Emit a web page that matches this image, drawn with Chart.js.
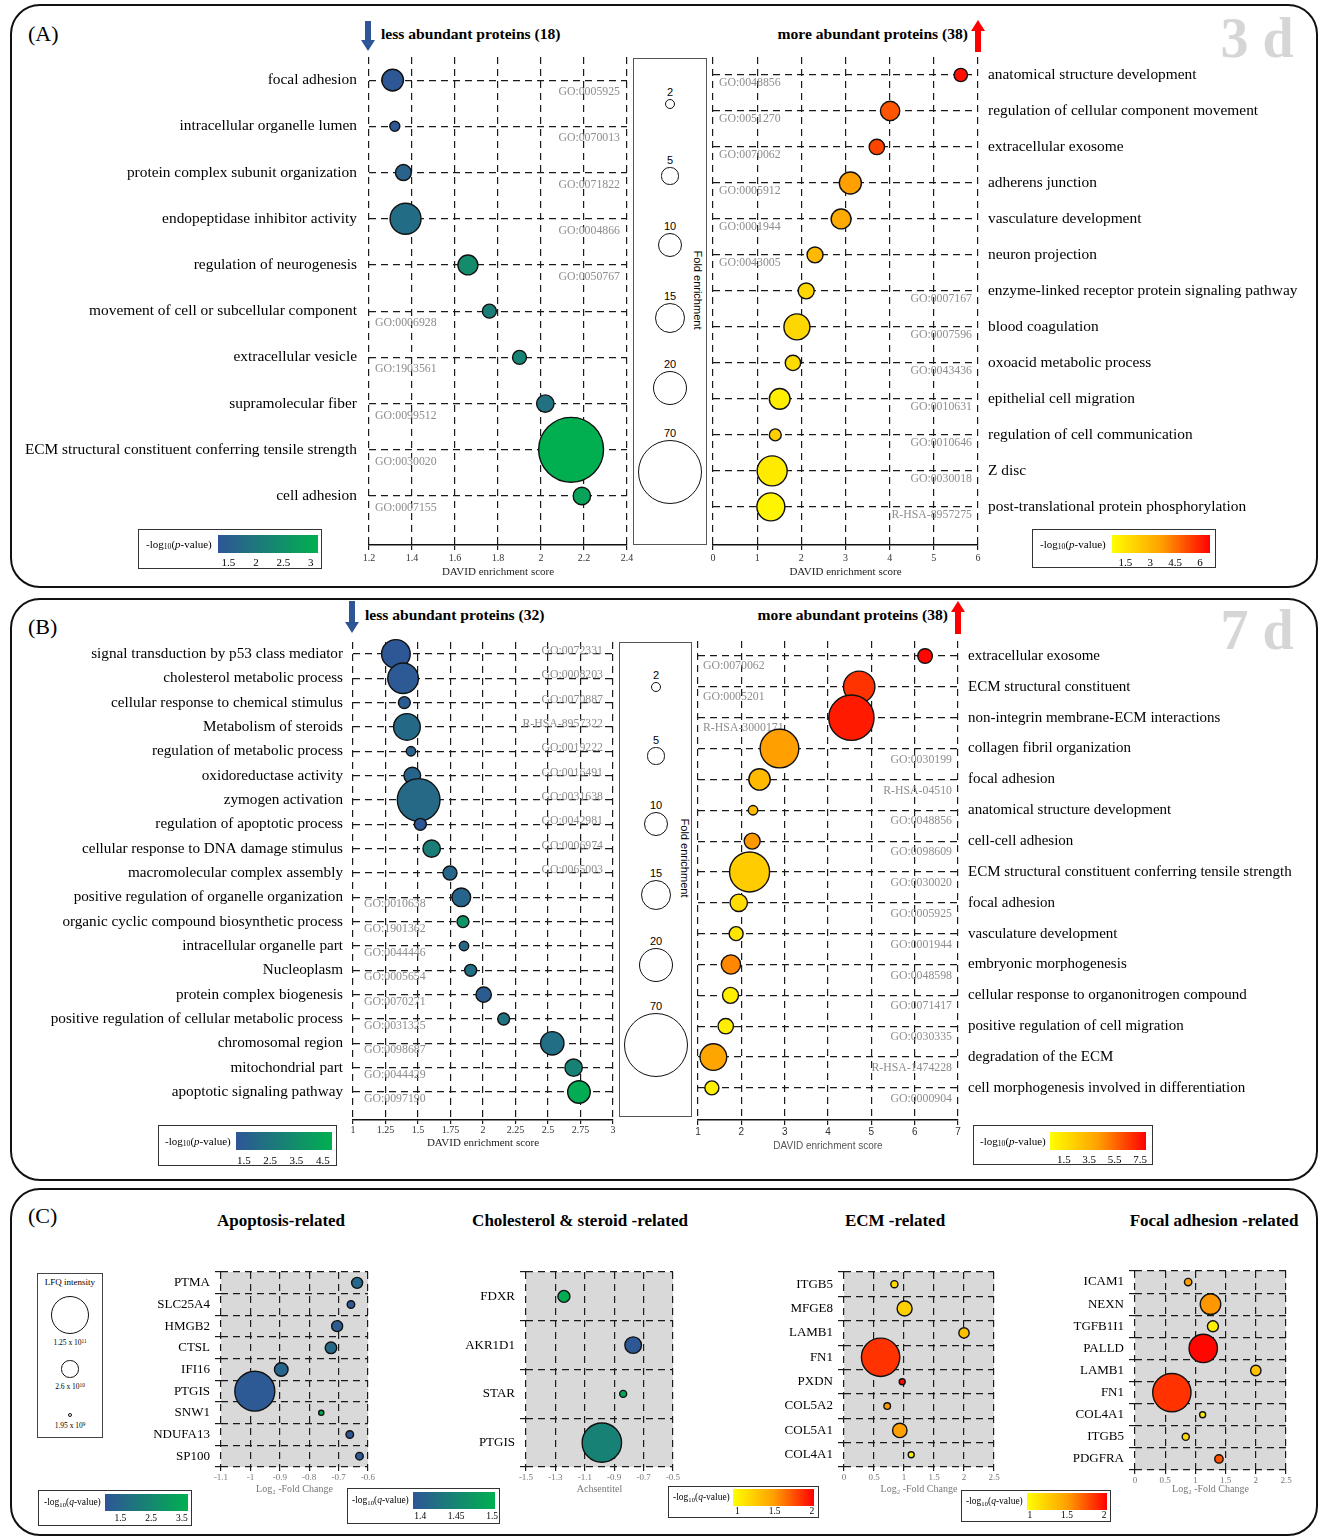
<!DOCTYPE html>
<html lang="en">
<head>
<meta charset="utf-8">
<title>GO enrichment bubble charts</title>
<script src="https://cdn.jsdelivr.net/npm/chart.js@4.4.1/dist/chart.umd.min.js"></script>
<style>
html,body{margin:0;padding:0;background:#fff;}
#page{position:relative;width:1319px;height:1536px;overflow:hidden;font-family:"Liberation Serif","Times New Roman",serif;color:#000;}
.panel{position:absolute;border:2px solid #111;border-radius:30px;box-sizing:border-box;}
.t{position:absolute;white-space:nowrap;line-height:1;}
.box{position:absolute;border:1.5px solid #333;box-sizing:border-box;}
canvas{position:absolute;}
.circ{position:absolute;border:1.6px solid #111;border-radius:50%;box-sizing:border-box;}
sub{font-size:70%;vertical-align:-0.25em;line-height:0;}
sup{font-size:70%;vertical-align:0.5em;line-height:0;}
</style>
</head>
<body>
<div id="page"></div>
<script>
// ---------------- DATA ----------------
// Panel A (3 d) - less abundant proteins
const aLessTerms = ["focal adhesion","intracellular organelle lumen","protein complex subunit organization","endopeptidase inhibitor activity","regulation of neurogenesis","movement of cell or subcellular component","extracellular vesicle","supramolecular fiber","ECM structural constituent conferring tensile strength","cell adhesion"];
const aLessGO = ["GO:0005925","GO:0070013","GO:0071822","GO:0004866","GO:0050767","GO:0006928","GO:1903561","GO:0099512","GO:0030020","GO:0007155"];
const aLessScore = [1.31,1.32,1.36,1.37,1.66,1.76,1.90,2.02,2.14,2.19];
const aLessFold = [7.9,1.7,4.3,16.2,6.7,3.3,3.3,5.1,71,5.1];
const aLessLogP = [1.35,1.35,1.58,1.77,2.4,2.13,2.22,1.86,3.1,2.86];
const aLessXTicks = [1.2,1.4,1.6,1.8,2,2.2,2.4];

// Panel A (3 d) - more abundant proteins
const aMoreTerms = ["anatomical structure development","regulation of cellular component movement","extracellular exosome","adherens junction","vasculature development","neuron projection","enzyme-linked receptor protein signaling pathway","blood coagulation","oxoacid metabolic process","epithelial cell migration","regulation of cell communication","Z disc","post-translational protein phosphorylation"];
const aMoreGO = ["GO:0048856","GO:0051270","GO:0070062","GO:0005912","GO:0001944","GO:0043005","GO:0007167","GO:0007596","GO:0043436","GO:0010631","GO:0010646","GO:0030018","R-HSA-8957275"];
const aMoreScore = [5.61,4.01,3.71,3.11,2.90,2.31,2.11,1.90,1.81,1.51,1.41,1.34,1.31];
const aMoreFold = [3.0,6.3,4.0,8.2,6.7,4.3,4.3,11.4,4.0,7.2,2.4,15.2,13.2];
const aMoreLogP = [6.3,5.03,5.35,3.65,3.34,2.87,1.94,1.94,1.79,1.23,2.25,1.32,1.0];
const aMoreXTicks = [0,1,2,3,4,5,6];

// Panel B (7 d) - less abundant proteins
const bLessTerms = ["signal transduction by p53 class mediator","cholesterol metabolic process","cellular response to chemical stimulus","Metabolism of steroids","regulation of metabolic process","oxidoreductase activity","zymogen activation","regulation of apoptotic process","cellular response to DNA damage stimulus","macromolecular complex assembly","positive regulation of organelle organization","organic cyclic compound biosynthetic process","intracellular organelle part","Nucleoplasm","protein complex biogenesis","positive regulation of cellular metabolic process","chromosomal region","mitochondrial part","apoptotic signaling pathway"];
const bLessGO = ["GO:0072331","GO:0008203","GO:0070887","R-HSA-8957322","GO:0019222","GO:0016491","GO:0031638","GO:0042981","GO:0006974","GO:0065003","GO:0010638","GO:1901362","GO:0044446","GO:0005654","GO:0070271","GO:0031325","GO:0098687","GO:0044429","GO:0097190"];
const bLessScore = [1.33,1.385,1.395,1.415,1.446,1.456,1.505,1.518,1.605,1.746,1.833,1.846,1.854,1.905,2.005,2.159,2.533,2.697,2.738];
const bLessFold = [13.8,15.8,2.4,12,1.5,4.7,30.7,2.4,5.1,3.3,5.9,2.4,1.5,2.4,4.0,2.4,9.2,5.1,8.6];
const bLessLogP = [1.3,1.35,1.45,2.05,1.75,1.8,2.0,1.25,2.85,1.85,1.8,3.75,1.95,2.2,1.5,2.4,2.2,2.95,4.65];
const bLessXTicks = [1,1.25,1.5,1.75,2,2.25,2.5,2.75,3];

// Panel B (7 d) - more abundant proteins
const bMoreTerms = ["extracellular exosome","ECM structural constituent","non-integrin membrane-ECM interactions","collagen fibril organization","focal adhesion","anatomical structure development","cell-cell adhesion","ECM structural constituent conferring tensile strength","focal adhesion","vasculature development","embryonic morphogenesis","cellular response to organonitrogen compound","positive regulation of cell migration","degradation of the ECM","cell morphogenesis involved in differentiation"];
const bMoreGO = ["GO:0070062","GO:0005201","R-HSA-3000171","GO:0030199","R-HSA-04510","GO:0048856","GO:0098609","GO:0030020","GO:0005925","GO:0001944","GO:0048598","GO:0071417","GO:0030335","R-HSA-1474228","GO:0000904"];
const bMoreScore = [6.24,4.72,4.54,2.88,2.42,2.27,2.25,2.19,1.94,1.88,1.76,1.75,1.64,1.355,1.32];
const bMoreFold = [3.6,16.6,34.7,25.2,7.7,1.5,4.3,27,5.1,3.3,6.3,4.3,4.0,12,3.3];
const bMoreLogP = [7.8,6.75,7.35,4.2,3.15,3.1,4.35,2.45,1.78,1.4,4.75,1.1,1.1,4.0,1.02];
const bMoreXTicks = [1,2,3,4,5,6,7];

// Fold enrichment legend
const foldLegendValues = [2,5,10,15,20,70];

// Panel C - protein level (LFQ intensity in units of 1e9)
const cApoGenes = ["PTMA","SLC25A4","HMGB2","CTSL","IFI16","PTGIS","SNW1","NDUFA13","SP100"];
const cApoFC = [-0.637,-0.658,-0.705,-0.726,-0.895,-0.985,-0.759,-0.662,-0.629];
const cApoLFQ = [10.4,4.9,10.4,11.5,15.9,137,2.3,4.9,4.9];
const cApoLogQ = [1.55,1.08,1.2,1.6,1.45,1.13,3.6,1.08,1.12];
const cApoXTicks = [-1.1,-1,-0.9,-0.8,-0.7,-0.6];

const cCholGenes = ["FDXR","AKR1D1","STAR","PTGIS"];
const cCholFC = [-1.242,-0.771,-0.839,-0.984];
const cCholLFQ = [12.3,23.6,4.2,133];
const cCholLogQ = [1.50,1.392,1.49,1.445];
const cCholXTicks = [-1.5,-1.3,-1.1,-0.9,-0.7,-0.5];

const cEcmGenes = ["ITGB5","MFGE8","LAMB1","FN1","PXDN","COL5A2","COL5A1","COL4A1"];
const cEcmFC = [0.84,1.01,2.0,0.61,0.97,0.72,0.93,1.12];
const cEcmLFQ = [4.3,19.3,9.2,126,3.1,3.7,17.8,3.1];
const cEcmLogQ = [1.16,1.21,1.3,1.86,2.0,1.51,1.485,1.04];
const cEcmXTicks = [0,0.5,1,1.5,2,2.5];

const cFaGenes = ["ICAM1","NEXN","TGFB1I1","PALLD","LAMB1","FN1","COL4A1","ITGB5","PDGFRA"];
const cFaFC = [0.88,1.25,1.29,1.13,2.0,0.61,1.12,0.84,1.39];
const cFaLFQ = [4.7,36,10.4,69,9.2,126,3.1,4.3,6];
const cFaLogQ = [1.5,1.53,1.05,2.02,1.32,1.87,1.06,1.18,1.77];
const cFaXTicks = [0,0.5,1,1.5,2,2.5];

const lfqLegendValues = [125,26,1.95];
const lfqLegendLabels = ["1.25 x 10<sup>11</sup>","2.6 x 10<sup>10</sup>","1.95 x 10<sup>9</sup>"];

// colour scale ranges and colourbar tick labels
const aLessRange = [1.31,3.13], aLessBarTicks = [1.5,2,2.5,3];
const aMoreRange = [0.7,6.6],  aMoreBarTicks = [1.5,3,4.5,6];
const bLessRange = [1.2,4.85], bLessBarTicks = [1.5,2.5,3.5,4.5];
const bMoreRange = [0.42,7.96], bMoreBarTicks = [1.5,3.5,5.5,7.5];
const cApoRange = [1.0,3.7],   cApoBarTicks = [1.5,2.5,3.5];
const cCholRange = [1.39,1.504], cCholBarTicks = [1.4,1.45,1.5];
const cEcmRange = [0.94,2.03], cEcmBarTicks = [1,1.5,2];
const cFaRange = [0.96,2.04],  cFaBarTicks = [1,1.5,2];

// ---------------- HELPERS ----------------
const SERIF = "Liberation Serif";
const SANS = "Liberation Sans";
const page = document.getElementById('page');
const clamp01 = t => Math.max(0, Math.min(1, t));
function blueGreen(v, r){ const t = clamp01((v-r[0])/(r[1]-r[0])); return `rgb(${Math.round(47-47*t)},${Math.round(85+91*t)},${Math.round(151-71*t)})`; }
function yellowRed(v, r){ const t = clamp01((v-r[0])/(r[1]-r[0])); const g = t < 0.5 ? 255-190*t : 160*(1-(t-0.5)*2); return `rgb(255,${Math.round(g)},0)`; }
const BG_CSS = "linear-gradient(to right, rgb(47,85,151), rgb(0,176,80))";
const YR_CSS = "linear-gradient(to right, #ffff00, #ffa000, #ff0000)";
const rFold = fe => 3.85*Math.sqrt(fe);
const rLFQ = v => 1.708*Math.sqrt(v);

function div(cls, css, html){ const d=document.createElement('div'); if(cls) d.className=cls; Object.assign(d.style, css||{}); if(html!==undefined) d.innerHTML=html; page.appendChild(d); return d; }
function txt(html, x, y, css, anchor){
  const d = div('t', Object.assign({left:x+'px', top:y+'px'}, css||{}), html);
  const tx = anchor==='c' ? '-50%' : anchor==='r' ? '-100%' : '0';
  d.style.transform = `translate(${tx},-50%)`;
  return d;
}
function panel(l,t,w,h){ div('panel',{left:l+'px',top:t+'px',width:w+'px',height:h+'px'}); }
function arrow(x, y1, y2, dir, color){
  const w=16, h=y2-y1;
  const s = document.createElementNS('http://www.w3.org/2000/svg','svg');
  s.setAttribute('width',w); s.setAttribute('height',h);
  Object.assign(s.style,{position:'absolute',left:(x-w/2)+'px',top:y1+'px'});
  const p = document.createElementNS('http://www.w3.org/2000/svg','polygon');
  const pts = dir==='down'
    ? `5,0 11,0 11,${h-11} 15,${h-11} 8,${h} 1,${h-11} 5,${h-11}`
    : `8,0 15,11 11,11 11,${h} 5,${h} 5,11 1,11`;
  p.setAttribute('points',pts); p.setAttribute('fill',color);
  s.appendChild(p); page.appendChild(s);
}
function colorbar(o){
  div('box',{left:o.box[0]+'px',top:o.box[1]+'px',width:o.box[2]+'px',height:o.box[3]+'px'});
  div('',{position:'absolute',left:o.grad[0]+'px',top:o.grad[1]+'px',width:o.grad[2]+'px',height:o.grad[3]+'px',background:o.css});
  txt(o.label, o.textX, o.textY, {fontSize:o.fs+'px'}, 'l');
  o.ticks.forEach(v=>{
    const x = o.grad[0] + (v-o.range[0])/(o.range[1]-o.range[0])*o.grad[2];
    txt(String(v), x, o.tickY, {fontSize:o.fs+'px'}, 'c');
  });
}
function foldLegend(box, cx, cys, textX, textY){
  div('',{position:'absolute',left:box[0]+'px',top:box[1]+'px',width:box[2]+'px',height:box[3]+'px',border:'1.5px solid #555',boxSizing:'border-box'});
  foldLegendValues.forEach((v,i)=>{
    const r = rFold(v);
    div('circ',{left:(cx-r)+'px',top:(cys[i]-r)+'px',width:(2*r)+'px',height:(2*r)+'px'});
    txt(String(v), cx, cys[i]-r-7, {fontFamily:SANS,fontSize:'11px'}, 'c');
  });
  const t = txt('Fold enrichment', textX, textY, {fontFamily:SANS,fontSize:'11px',writingMode:'vertical-rl'}, 'l');
  t.style.transform='translate(-50%,-50%)';
}

function bubbleChart(o){
  const PT=20, PF=16;
  const pw=o.plot.r-o.plot.l, ph=o.plot.b-o.plot.t;
  const left = o.side==='left' ? o.plot.l-o.yW : o.plot.l-PF;
  const W = o.yW+pw+PF, H = PT+ph+o.xH;
  const cv=document.createElement('canvas');
  cv.width=W; cv.height=H;
  Object.assign(cv.style,{left:left+'px',top:(o.plot.t-PT)+'px',width:W+'px',height:H+'px'});
  page.appendChild(cv);
  const dash=[7,5], gc='#1a1a1a';
  const yTicks = {font:{family:SERIF,size:o.labelSize},color:'#000',padding:o.yPad,autoSkip:false};
  const yTickColor = o.category ? gc : 'rgba(0,0,0,0)';
  let yScale;
  if (o.category) {
    yScale = {type:'category',labels:o.labels,offset:true,position:o.side,
      grid:{offset:true,color:gc,lineWidth:1.2,tickLength:o.yTickLen,tickColor:yTickColor},
      border:{display:false,dash},
      ticks:yTicks,
      afterFit:s=>{s.width=o.yW;}};
  } else {
    yScale = {type:'linear',position:o.side,reverse:true,min:o.ymin,max:o.ymax,bounds:'data',
      afterBuildTicks:s=>{s.ticks=o.labels.map((_,i)=>({value:i}));},
      grid:{color:gc,lineWidth:1.2,tickLength:o.yTickLen,tickColor:yTickColor},
      border:{display:false,dash},
      ticks:Object.assign({callback:v=>o.labels[v]},yTicks),
      afterFit:s=>{s.width=o.yW;}};
  }
  const plugins=[];
  if (o.bg) plugins.push({id:'plotBg',beforeDraw(c){const a=c.chartArea;c.ctx.save();c.ctx.fillStyle=o.bg;c.ctx.fillRect(a.left,a.top,a.right-a.left,a.bottom-a.top);c.ctx.restore();}});
  if (o.go) plugins.push({id:'goIds',beforeDatasetsDraw(c){
    const a=c.chartArea, ys=c.scales.y, ctx=c.ctx;
    ctx.save(); ctx.font=`11.8px "${SERIF}"`; ctx.fillStyle='#8d8d8d'; ctx.textBaseline='middle';
    o.go.ids.forEach((id,i)=>{
      const right = o.go.align(i)==='right';
      ctx.textAlign = right?'right':'left';
      const x = right ? a.right-o.go.insetR : a.left+o.go.insetL;
      ctx.fillText(id, x, ys.getPixelForValue(i)+(right?o.go.dyR:o.go.dyL));
    });
    ctx.restore();
  }});
  new Chart(cv,{
    type:'bubble',
    data:{datasets:[{data:o.xs.map((x,i)=>({x:x,y:o.category?o.labels[i]:i,r:o.rs[i]})),
      backgroundColor:o.colors,borderColor:'#111',borderWidth:1.4,clip:false}]},
    options:{responsive:false,animation:false,events:[],
      layout:{autoPadding:false,padding:{top:PT,bottom:0,left:o.side==='left'?0:PF,right:o.side==='left'?PF:0}},
      plugins:{legend:{display:false},tooltip:{enabled:false}},
      scales:{
        x:{type:'linear',min:o.xmin,max:o.xmax,bounds:'data',
          afterBuildTicks:s=>{s.ticks=o.xticks.map(v=>({value:v}));},
          ticks:{callback:v=>String(v),font:{family:o.xFont||SERIF,size:o.xTickSize},color:o.xTickColor,padding:o.xPad,maxRotation:0,autoSkip:false},
          grid:{color:gc,lineWidth:1.2,tickLength:o.xTickLen,tickColor:gc},
          border:{display:!o.category,color:'#111',width:1.5,dash},
          title:{display:true,text:o.title,font:{family:o.xFont||SERIF,size:o.titleSize},color:o.titleColor,padding:{top:0,bottom:o.titlePB}},
          afterFit:s=>{s.height=o.xH;}},
        y:yScale
      }},
    plugins:plugins
  });
}

// ---------------- LAYOUT ----------------
panel(10,4,1308,584);
panel(10,598,1308,583);
panel(10,1188,1308,348);

// Panel A header
txt('(A)',28,34,{fontSize:'22px'},'l');
arrow(368,21,51,'down','#2f5597');
txt('less abundant proteins (18)',381,34,{fontSize:'15.6px',fontWeight:'bold'},'l');
txt('more abundant proteins (38)',968,34,{fontSize:'15.6px',fontWeight:'bold'},'r');
arrow(978,20,52,'up','#ff0000');
txt('3 d',1257,38,{fontSize:'56px',fontWeight:'bold',color:'#d6d6d6'},'c');

// Panel B header
txt('(B)',28,627,{fontSize:'22px'},'l');
arrow(352,601,633,'down','#2f5597');
txt('less abundant proteins (32)',365,615,{fontSize:'15.6px',fontWeight:'bold'},'l');
txt('more abundant proteins (38)',948,615,{fontSize:'15.6px',fontWeight:'bold'},'r');
arrow(958,601,634,'up','#ff0000');
txt('7 d',1257,630,{fontSize:'56px',fontWeight:'bold',color:'#d6d6d6'},'c');

// Panel C header
txt('(C)',28,1216,{fontSize:'22px'},'l');
txt('Apoptosis-related',281,1220,{fontSize:'17px',fontWeight:'bold'},'c');
txt('Cholesterol &amp; steroid -related',580,1220,{fontSize:'17px',fontWeight:'bold'},'c');
txt('ECM -related',895,1220,{fontSize:'17px',fontWeight:'bold'},'c');
txt('Focal adhesion -related',1214,1220,{fontSize:'17px',fontWeight:'bold'},'c');

// Fold enrichment legends
foldLegend([633,58,74,487],670,[104,176,245,318,388,472],697,290);
foldLegend([619,642,73,475],656,[687,756,824,895,965,1045],684,858);

// LFQ legend
div('',{position:'absolute',left:'37px',top:'1273px',width:'66px',height:'165px',border:'1.5px solid #444',boxSizing:'border-box'});
txt('LFQ intensity',70,1282,{fontSize:'9px'},'c');
[1315,1369,1415].forEach((cy,i)=>{
  const r=rLFQ(lfqLegendValues[i]);
  div('circ',{left:(70-r)+'px',top:(cy-r)+'px',width:(2*r)+'px',height:(2*r)+'px',borderWidth:'1.3px'});
  txt(lfqLegendLabels[i],70,cy+r+9,{fontSize:'7.5px'},'c');
});

// ---------------- CHARTS ----------------
const goA_L = {ids:aLessGO,align:i=>i<5?'right':'left',insetR:7,insetL:6,dyR:12,dyL:12};
bubbleChart({plot:{l:369,t:57,r:627,b:545},side:'left',yW:360,xH:40,labels:aLessTerms,labelSize:15.4,yPad:4,yTickLen:8,
  ymin:-0.5,ymax:10.06,xmin:1.2,xmax:2.4,xticks:aLessXTicks,xs:aLessScore,rs:aLessFold.map(rFold),
  colors:aLessLogP.map(v=>blueGreen(v,aLessRange)),xTickSize:10,xTickColor:'#333',xPad:2,xTickLen:5,
  title:'DAVID enrichment score',titleSize:11,titleColor:'#222',titlePB:6,go:goA_L});

const goA_R = {ids:aMoreGO,align:i=>i<6?'left':'right',insetR:6,insetL:6,dyR:8,dyL:8};
bubbleChart({plot:{l:713,t:57,r:978,b:545},side:'right',yW:335,xH:40,labels:aMoreTerms,labelSize:15.4,yPad:2,yTickLen:8,
  ymin:-0.5,ymax:13.06,xmin:0,xmax:6,xticks:aMoreXTicks,xs:aMoreScore,rs:aMoreFold.map(rFold),
  colors:aMoreLogP.map(v=>yellowRed(v,aMoreRange)),xTickSize:10,xTickColor:'#333',xPad:2,xTickLen:5,
  title:'DAVID enrichment score',titleSize:11,titleColor:'#222',titlePB:6,go:goA_R});

const goB_L = {ids:bLessGO,align:i=>i<10?'right':'left',insetR:10,insetL:11,dyR:-3,dyL:7};
bubbleChart({plot:{l:353,t:642,r:613,b:1120},side:'left',yW:348,xH:40,labels:bLessTerms,labelSize:15.2,yPad:3,yTickLen:7,
  ymin:-0.49,ymax:19.15,xmin:1,xmax:3,xticks:bLessXTicks,xs:bLessScore,rs:bLessFold.map(rFold),
  colors:bLessLogP.map(v=>blueGreen(v,bLessRange)),xTickSize:10,xTickColor:'#333',xPad:0,xTickLen:4,
  title:'DAVID enrichment score',titleSize:11,titleColor:'#222',titlePB:10,go:goB_L});

const goB_R = {ids:bMoreGO,align:i=>i<3?'left':'right',insetR:6,insetL:5,dyR:11,dyL:10};
bubbleChart({plot:{l:698,t:641,r:958,b:1120},side:'right',yW:350,xH:40,labels:bMoreTerms,labelSize:15,yPad:2,yTickLen:8,
  ymin:-0.486,ymax:15.04,xmin:1,xmax:7,xticks:bMoreXTicks,xs:bMoreScore,rs:bMoreFold.map(rFold),
  colors:bMoreLogP.map(v=>yellowRed(v,bMoreRange)),xTickSize:10,xTickColor:'#333',xPad:1,xTickLen:5,xFont:SANS,
  title:'DAVID enrichment score',titleSize:10,titleColor:'#555',titlePB:8,go:goB_R});

const cCommon = {side:'left',xH:30,labelSize:13,yPad:5,yTickLen:6,category:true,bg:'#d9d9d9',
  xTickSize:9,xTickColor:'#777',xPad:1,xTickLen:4,titleSize:10,titleColor:'#777',titlePB:2};
bubbleChart(Object.assign({},cCommon,{plot:{l:221,t:1272,r:368,b:1467},yW:210,labels:cApoGenes,
  xmin:-1.1,xmax:-0.6,xticks:cApoXTicks,xs:cApoFC,rs:cApoLFQ.map(rLFQ),colors:cApoLogQ.map(v=>blueGreen(v,cApoRange)),
  title:'Log\u2082 -Fold Change'}));
bubbleChart(Object.assign({},cCommon,{plot:{l:526,t:1272,r:673,b:1467},yW:200,labels:cCholGenes,
  xmin:-1.5,xmax:-0.5,xticks:cCholXTicks,xs:cCholFC,rs:cCholLFQ.map(rLFQ),colors:cCholLogQ.map(v=>blueGreen(v,cCholRange)),
  title:'Achsentitel'}));
bubbleChart(Object.assign({},cCommon,{plot:{l:844,t:1272,r:994,b:1467},yW:200,labels:cEcmGenes,
  xmin:0,xmax:2.5,xticks:cEcmXTicks,xs:cEcmFC,rs:cEcmLFQ.map(rLFQ),colors:cEcmLogQ.map(v=>yellowRed(v,cEcmRange)),
  title:'Log\u2082 -Fold Change'}));
bubbleChart(Object.assign({},cCommon,{plot:{l:1135,t:1271,r:1286,b:1470},yW:200,xH:27,labels:cFaGenes,
  xmin:0,xmax:2.5,xticks:cFaXTicks,xs:cFaFC,rs:cFaLFQ.map(rLFQ),colors:cFaLogQ.map(v=>yellowRed(v,cFaRange)),
  title:'Log\u2082 -Fold Change'}));

// ---------------- COLOURBARS ----------------
const pLab = '-log<sub>10</sub>(<i>p</i>-value)';
const qLab = '-log<sub>10</sub>(<i>q</i>-value)';
colorbar({box:[138,529,184,40],grad:[218,535,100,18],css:BG_CSS,label:pLab,textX:146,textY:544,tickY:562,fs:11,range:aLessRange,ticks:aLessBarTicks});
colorbar({box:[1032,529,184,39],grad:[1112,535,98,18],css:YR_CSS,label:pLab,textX:1040,textY:544,tickY:562,fs:11,range:aMoreRange,ticks:aMoreBarTicks});
colorbar({box:[158,1125,179,41],grad:[236,1132,96,18],css:BG_CSS,label:pLab,textX:165,textY:1141,tickY:1160,fs:11,range:bLessRange,ticks:bLessBarTicks});
colorbar({box:[973,1125,180,40],grad:[1050,1132,96,18],css:YR_CSS,label:pLab,textX:980,textY:1141,tickY:1159,fs:11,range:bMoreRange,ticks:bMoreBarTicks});
colorbar({box:[38,1490,154,36],grad:[105,1494,83,17],css:BG_CSS,label:qLab,textX:44,textY:1503,tickY:1519,fs:9.5,range:cApoRange,ticks:cApoBarTicks});
colorbar({box:[347,1488,153,36],grad:[413,1492,82,17],css:BG_CSS,label:qLab,textX:352,textY:1501,tickY:1517,fs:9.5,range:cCholRange,ticks:cCholBarTicks});
colorbar({box:[668,1486,151,32],grad:[733,1489,81,17],css:YR_CSS,label:qLab,textX:673,textY:1498,tickY:1512,fs:9.5,range:cEcmRange,ticks:cEcmBarTicks});
colorbar({box:[961,1490,150,32],grad:[1027,1493,80,17],css:YR_CSS,label:qLab,textX:966,textY:1502,tickY:1516,fs:9.5,range:cFaRange,ticks:cFaBarTicks});
</script>
</body>
</html>
